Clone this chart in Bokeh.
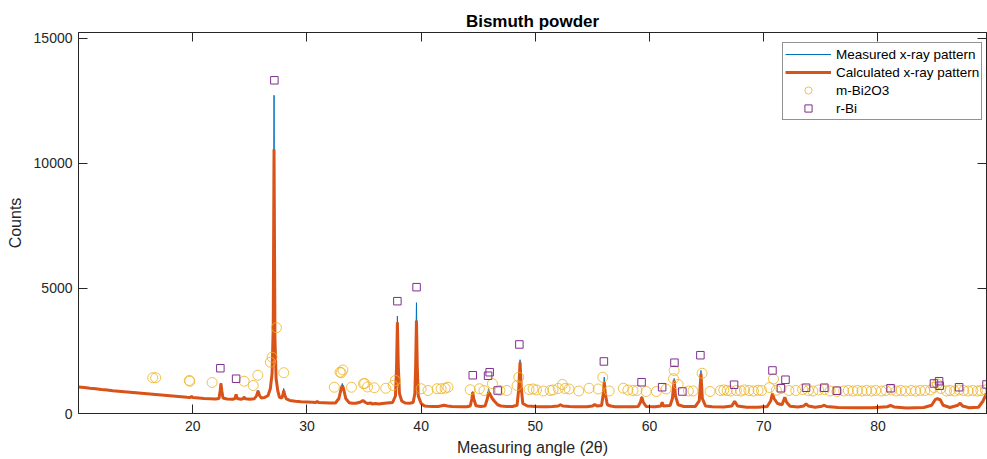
from bokeh.plotting import figure
from bokeh.models import Range1d, LinearAxis, Legend, LegendItem, FixedTicker
from bokeh.embed import file_html
from bokeh.resources import INLINE

# ---- data ----
two_theta = [
    10.0, 10.5, 11.0, 11.5, 12.0, 12.5, 13.0, 13.5, 14.0, 14.5,
    15.0, 15.5, 16.0, 16.5, 17.0, 17.5, 18.0, 18.5, 19.0, 19.5,
    19.8, 19.9, 20.0, 20.5, 21.0, 21.5, 22.0, 22.3, 22.4, 22.47,
    22.55, 22.65, 23.0, 23.5, 23.7, 23.8, 23.9, 24.2, 24.4, 24.5,
    24.6, 25.0, 25.4, 25.6, 25.72, 25.85, 26.0, 26.3, 26.6, 26.8,
    26.95, 27.05, 27.12, 27.2, 27.3, 27.45, 27.6, 27.8, 27.9, 27.97,
    28.05, 28.2, 28.5, 29.0, 29.5, 30.0, 30.5, 30.8, 30.9, 31.0,
    31.5, 32.0, 32.5, 32.8, 33.0, 33.1, 33.2, 33.4, 33.7, 34.0,
    34.3, 34.7, 34.9, 35.1, 35.3, 35.6, 35.7, 36.0, 36.3, 36.6,
    37.0, 37.5, 37.75, 37.85, 37.92, 38.0, 38.1, 38.3, 38.6, 39.0,
    39.3, 39.45, 39.52, 39.59, 39.66, 39.75, 40.0, 40.3, 40.6, 41.0,
    41.5, 41.8, 42.0, 42.3, 42.7, 43.5, 44.0, 44.3, 44.45, 44.52,
    44.6, 44.8, 45.2, 45.6, 45.8, 45.9, 46.0, 46.2, 46.4, 46.7,
    47.0, 47.5, 48.0, 48.4, 48.55, 48.66, 48.77, 48.9, 49.3, 50.0,
    50.5, 51.0, 51.5, 52.0, 52.2, 52.4, 53.0, 53.5, 54.0, 54.5,
    55.0, 55.2, 55.4, 55.8, 55.95, 56.03, 56.12, 56.3, 56.6, 57.0,
    58.0, 58.5, 59.0, 59.2, 59.32, 59.45, 59.7, 60.5, 61.0, 61.1,
    61.2, 61.8, 62.0, 62.15, 62.27, 62.5, 63.0, 64.0, 64.35, 64.5,
    64.62, 64.9, 65.5, 66.5, 67.2, 67.45, 67.7, 68.5, 69.5, 70.3,
    70.6, 70.76, 70.9, 71.2, 71.6, 71.84, 72.0, 72.3, 73.0, 73.5,
    73.7, 73.9, 74.5, 75.1, 75.3, 75.5, 76.5, 78.0, 79.5, 80.8,
    81.1, 81.4, 82.5, 84.0, 84.7, 85.0, 85.2, 85.45, 85.7, 86.3,
    87.0, 87.2, 87.4, 88.0, 88.8, 89.2, 89.5,
]

calculated = [
    1060, 1040, 1010, 990, 960, 940, 910, 890, 870, 850,
    830, 810, 790, 770, 750, 730, 710, 690, 670, 650,
    640, 690, 640, 620, 600, 590, 580, 600, 900, 1200,
    900, 620, 580, 570, 600, 760, 600, 570, 590, 660,
    590, 570, 590, 720, 900, 720, 620, 640, 720, 1000,
    1600, 3500, 10560, 3000, 1400, 900, 650, 620, 750, 920,
    750, 580, 520, 490, 470, 460, 450, 440, 480, 440,
    430, 420, 420, 600, 1000, 1120, 1000, 600, 430, 410,
    410, 460, 520, 450, 400, 420, 380, 400, 380, 400,
    420, 440, 700, 1900, 3650, 1900, 800, 500, 420, 410,
    440, 800, 1900, 3720, 1900, 700, 400, 300, 290, 280,
    280, 310, 330, 300, 280, 270, 270, 300, 600, 850,
    600, 310, 280, 300, 600, 850, 800, 620, 500, 350,
    300, 280, 280, 330, 1000, 2050, 1000, 400, 300, 280,
    270, 270, 280, 300, 350, 300, 280, 270, 270, 270,
    300, 360, 300, 320, 800, 1250, 800, 350, 300, 270,
    270, 270, 280, 450, 650, 450, 280, 270, 300, 450,
    300, 320, 600, 1320, 700, 350, 280, 280, 500, 1590,
    600, 300, 270, 260, 300, 490, 300, 250, 250, 280,
    500, 790, 600, 400, 350, 650, 450, 290, 260, 300,
    390, 300, 250, 290, 330, 280, 240, 230, 230, 270,
    320, 260, 220, 240, 330, 550, 590, 550, 330, 240,
    330, 410, 300, 230, 250, 500, 800,
]

measured = [
    1080, 1030, 1020, 980, 950, 930, 900, 880, 880, 870,
    850, 820, 780, 760, 740, 720, 700, 680, 660, 640,
    630, 700, 630, 610, 590, 580, 570, 590, 920, 1220,
    880, 600, 560, 560, 590, 780, 590, 560, 580, 680,
    580, 560, 580, 730, 940, 700, 600, 630, 720, 1000,
    1650, 3600, 12720, 3200, 1450, 900, 640, 600, 760, 1000,
    740, 560, 500, 480, 460, 450, 440, 430, 500, 430,
    420, 410, 410, 600, 1050, 1200, 1020, 590, 420, 400,
    400, 450, 520, 440, 390, 410, 370, 390, 370, 390,
    410, 430, 720, 2000, 3890, 2000, 800, 490, 410, 400,
    430, 820, 2100, 4430, 2000, 700, 390, 290, 280, 270,
    270, 300, 330, 290, 270, 260, 260, 290, 620, 880,
    600, 300, 270, 290, 620, 1000, 820, 620, 490, 340,
    290, 270, 270, 320, 1050, 2150, 1020, 390, 290, 270,
    260, 260, 270, 300, 370, 290, 270, 260, 260, 260,
    290, 370, 290, 310, 850, 1450, 820, 340, 290, 260,
    260, 260, 270, 460, 680, 450, 270, 260, 290, 460,
    290, 310, 620, 1400, 720, 340, 270, 270, 520, 1720,
    600, 290, 260, 250, 290, 500, 290, 240, 240, 270,
    510, 820, 600, 390, 340, 660, 440, 280, 250, 290,
    400, 290, 240, 280, 340, 270, 230, 220, 220, 260,
    320, 250, 210, 230, 320, 560, 610, 560, 320, 230,
    330, 420, 290, 220, 240, 500, 800,
]

bi2o3_angle = [
    16.5, 16.76, 19.7, 19.75, 21.7, 24.5, 25.3, 25.7, 26.8, 26.95, 27.33, 27.97,
    32.4, 32.9, 33.0, 33.15, 33.9, 34.95, 35.05, 35.3, 35.9, 36.9, 37.55, 37.75,
    40.0, 40.6, 41.4, 41.75, 42.1, 42.35, 44.3, 45.1, 45.5, 46.24, 46.9, 47.5,
    48.4, 48.55, 49.45, 49.8,
    50.1, 50.7, 51.3, 51.55, 52.0, 52.37, 52.6, 52.95, 53.8, 54.7, 55.5, 55.9,
    56.46, 57.7, 58.1, 58.55, 58.9, 59.7, 60.6, 61.45, 62.1, 62.15, 62.5, 63.4,
    63.8, 64.6,
    65.3, 66.2, 66.5, 66.8, 67.1, 67.6, 68.0, 68.3, 68.7, 69.1, 69.5, 69.8,
    70.5, 70.85, 71.1, 71.5, 72.2, 72.8, 73.4, 73.9, 74.3, 74.8, 75.3, 75.8,
    76.4, 77.0, 77.4, 77.8, 78.2, 78.6, 79.0, 79.4, 79.8, 80.3, 80.7, 81.2,
    81.6, 82.0, 82.4, 82.9, 83.3, 83.7, 84.1, 84.6, 84.9, 85.2, 85.5, 86.0,
    86.3, 86.7, 87.1, 87.5, 87.9, 88.3, 88.7, 89.0, 89.4,
]
bi2o3_counts = [
    1430, 1430, 1320, 1290, 1240, 1290, 1120, 1530, 2050, 2250, 3430, 1630,
    1050, 1650, 1630, 1740, 1050, 1190, 1200, 1060, 1030, 1010, 1120, 1320,
    990, 920, 990, 990, 1010, 1050, 950, 990, 920, 1190, 920, 920,
    1120, 1450, 960, 980,
    940, 900, 920, 940, 1000, 1160, 1000, 980, 900, 1010, 980, 1450,
    900, 1010, 940, 920, 920, 880, 880, 980, 1390, 1720, 1160, 900,
    900, 1610,
    880, 920, 940, 920, 900, 920, 900, 940, 920, 900, 930, 920,
    1040, 1380, 930, 1000, 920, 920, 960, 920, 900, 940, 960, 900,
    880, 900, 920, 900, 920, 900, 920, 900, 920, 900, 920, 940,
    900, 920, 900, 920, 900, 920, 920, 940, 1040, 1180, 1000, 900,
    920, 900, 940, 920, 900, 920, 900, 920, 940,
]

bi_angle = [
    22.42, 23.8, 27.15, 37.92, 39.6, 44.52, 45.86, 46.0, 46.7, 48.6,
    56.0, 59.3, 61.1, 62.18, 62.87, 64.45, 67.4, 70.76, 71.5, 71.9,
    73.7, 75.3, 76.4, 81.1, 84.9, 85.35, 85.4, 87.1, 89.5,
]
bi_counts = [
    1810, 1390, 13320, 4490, 5050, 1530, 1510, 1650, 920, 2760,
    2080, 1250, 1050, 2030, 880, 2330, 1150, 1720, 1010, 1350,
    1030, 1030, 910, 1010, 1200, 1290, 1110, 1050, 1160,
]

x_ticks = [20, 30, 40, 50, 60, 70, 80]
y_ticks = [0, 5000, 10000, 15000]

FONT = "Liberation Sans"
DARK = "#262626"

p = figure(width=987, height=459, x_range=Range1d(10, 89.5), y_range=Range1d(0, 15230),
           output_backend="svg", toolbar_location=None,
           min_border_left=78, min_border_right=1, min_border_top=32, min_border_bottom=46,
           title="Bismuth powder")
p.background_fill_color = "white"
p.border_fill_color = "white"
p.outline_line_color = DARK
p.outline_line_width = 1
p.xgrid.visible = False
p.ygrid.visible = False

p.title.align = "center"
p.title.text_font = FONT
p.title.text_font_size = "17px"
p.title.text_font_style = "bold"
p.title.text_color = "#000000"
p.title.standoff = 3

def style_axis(ax, ticks, show_labels=True):
    ax.ticker = FixedTicker(ticks=ticks)
    ax.major_tick_in = 9
    ax.major_tick_out = 0
    ax.minor_tick_in = 0
    ax.minor_tick_out = 0
    ax.axis_line_color = DARK
    ax.major_tick_line_color = DARK
    ax.major_label_text_font = FONT
    ax.major_label_text_color = DARK
    ax.axis_label_text_font = FONT
    ax.axis_label_text_font_style = "normal"
    ax.axis_label_text_color = DARK
    ax.axis_label_text_font_size = "16px"
    ax.major_label_text_font_size = "14px"
    if not show_labels:
        ax.major_label_overrides = {t: "" for t in ticks}
        ax.major_label_standoff = 0
        ax.axis_label_standoff = 0

style_axis(p.xaxis[0], x_ticks)
style_axis(p.yaxis[0], y_ticks)
p.xaxis[0].axis_label = "Measuring angle (2θ)"
p.yaxis[0].axis_label = "Counts"
p.xaxis[0].major_label_standoff = 7
p.xaxis[0].axis_label_standoff = 5
p.yaxis[0].major_label_standoff = 6
p.yaxis[0].axis_label_standoff = 7

top_ax = LinearAxis()
style_axis(top_ax, x_ticks, show_labels=False)
p.add_layout(top_ax, "above")
right_ax = LinearAxis()
style_axis(right_ax, y_ticks, show_labels=False)
p.add_layout(right_ax, "right")

r_meas = p.line(two_theta, measured, line_color="#0072BD", line_width=1)
r_calc = p.line(two_theta, calculated, line_color="#D95319", line_width=3)
r_circ = p.scatter(bi2o3_angle, bi2o3_counts, marker="circle", size=10, fill_color=None,
                   line_color="#EDB120", line_width=1, line_alpha=0.8)
r_sq = p.scatter(bi_angle, bi_counts, marker="square", size=7.5, fill_color=None,
                 line_color="#7E2F8E", line_width=1)

legend = Legend(items=[
    LegendItem(label="Measured x-ray pattern", renderers=[r_meas]),
    LegendItem(label="Calculated x-ray pattern", renderers=[r_calc]),
    LegendItem(label="m-Bi2O3", renderers=[r_circ]),
    LegendItem(label="r-Bi", renderers=[r_sq]),
], location=(704, 293))
legend.label_text_font = FONT
legend.label_text_font_size = "13.5px"
legend.label_text_color = "#000000"
legend.border_line_color = DARK
legend.border_line_width = 1
legend.background_fill_color = "white"
legend.background_fill_alpha = 1
legend.padding = 2
legend.spacing = 0
legend.margin = 0
legend.glyph_width = 46
legend.glyph_height = 18
legend.label_height = 18
legend.label_standoff = 5
p.add_layout(legend)

open("out.html", "w").write(file_html(p, INLINE))
